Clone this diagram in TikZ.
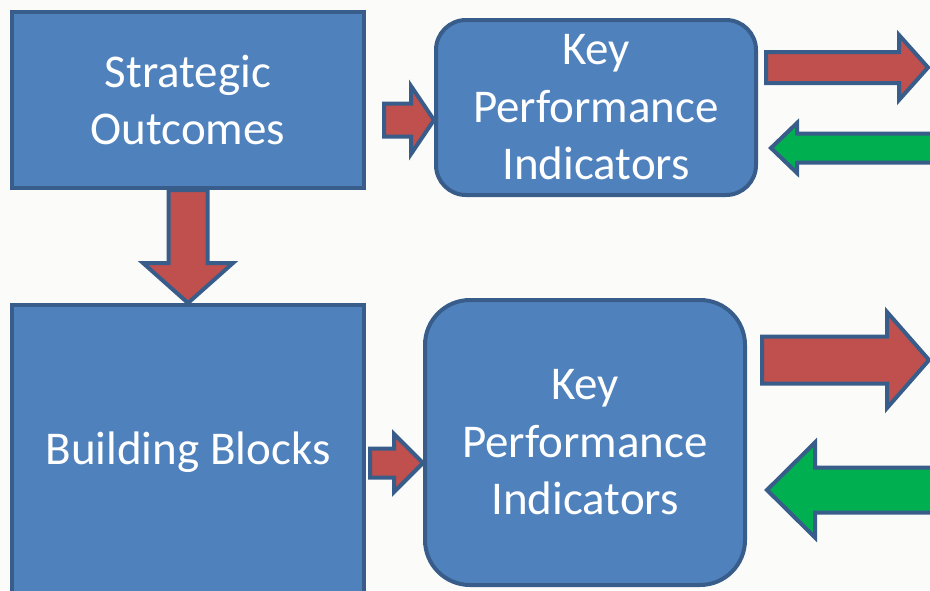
\documentclass[tikz,border=0pt]{standalone}
\usepackage{fontspec}
\setmainfont{Carlito}
\usepackage{xcolor}
\usepackage{tikz}

\definecolor{boxblue}{HTML}{4F81BD}
\definecolor{edgeblue}{HTML}{385D8A}
\definecolor{arrred}{HTML}{C0504D}
\definecolor{arrgreen}{HTML}{00B050}
\definecolor{bgwhite}{HTML}{FBFCF9}

\begin{document}
\begin{tikzpicture}[x=1pt,y=-1pt,
  blockbox/.style={draw=edgeblue,fill=boxblue,line width=4pt,text=white,align=center,inner sep=0pt,font={\fontsize{47}{57.5}\selectfont}},
  kpibox/.style={blockbox,rounded corners=#1},
  redarr/.style={draw=edgeblue,fill=arrred,line width=4pt,line join=miter},
  greenarr/.style={draw=edgeblue,fill=arrgreen,line width=4pt,line join=miter}]

\clip (0,0) rectangle (930,590);
\fill[bgwhite] (0,0) rectangle (930,590);

\node[blockbox][minimum width=352pt,minimum height=176pt] (SO) at (188,100) {Strategic\\Outcomes};
\node[blockbox][minimum width=352pt,minimum height=295pt] (BB) at (188,452.5) {Building Blocks};

\node[kpibox=30pt][minimum width=320pt,minimum height=175pt] (KPIa) at (596,107.5) {Key\\Performance\\Indicators};
\node[kpibox=45pt][minimum width=320pt,minimum height=285pt] (KPIb) at (585,442.5) {Key\\Performance\\Indicators};

\coordinate (outa) at (928,67.5);
\coordinate (ina) at (771,148);
\coordinate (outb) at (929,360);
\coordinate (inb) at (767,490);
%%%
\draw[redarr] (BB.north) -- ++(-45,-40) -- ++(25.5,0) -- ++(0,-73) -- ++(39,0) -- ++(0,73) -- ++(25.5,0) -- cycle;

\draw[redarr] (KPIa.west |- 0,120) -- ++(-23,-34) -- ++(0,17.5) -- ++(-27,0) -- ++(0,33) -- ++(27,0) -- ++(0,17.5) -- cycle;

\draw[redarr] (KPIb.west |- 0,463) -- ++(-29,-29) -- ++(0,14.5) -- ++(-24,0) -- ++(0,29) -- ++(24,0) -- ++(0,14.5) -- cycle;
%%%
\draw[redarr] (outa) -- ++(-29,-32.5) -- ++(0,17) -- ++(-133,0) -- ++(0,31) -- ++(133,0) -- ++(0,17) -- cycle;
\draw[greenarr] (ina) -- ++(26,-25) -- ++(0,10.5) -- ++(170,0) -- ++(0,29) -- ++(-170,0) -- ++(0,10.5) -- cycle;

\draw[redarr] (outb) -- ++(-42,-48) -- ++(0,24.5) -- ++(-125,0) -- ++(0,47) -- ++(125,0) -- ++(0,24.5) -- cycle;
\draw[greenarr] (inb) -- ++(48,-47.5) -- ++(0,25) -- ++(130,0) -- ++(0,45) -- ++(-130,0) -- ++(0,25) -- cycle;
\end{tikzpicture}
\end{document}
